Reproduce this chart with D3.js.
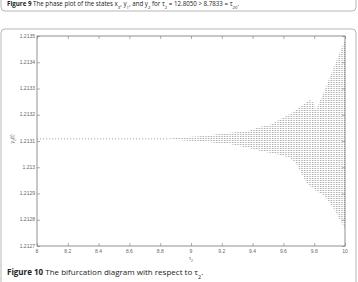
<!DOCTYPE html>
<html><head>
<meta charset="utf-8">
<script src="https://d3js.org/d3.v7.min.js"></script>
<style>
  body { margin: 0; background: #fff; }
  text.cap { font-family: "Open Sans", sans-serif; font-size: 8px; fill: #222; }
  text.cap9 { font-family: "Open Sans", sans-serif; font-size: 6.2px; fill: #222; }
  text.tick { font-family: "Liberation Sans", Arial, sans-serif; font-size: 5px; fill: #666; }
</style>
</head>
<body>
<svg id="chart" width="358" height="282"></svg>
<script>
// tick labels
const xTicks = [8, 8.2, 8.4, 8.6, 8.8, 9, 9.2, 9.4, 9.6, 9.8, 10];
const yTicks = [1.2127, 1.2128, 1.2129, 1.213, 1.2131, 1.2132, 1.2133, 1.2134, 1.2135];

// steady state before the Hopf point
const eqValue = 1.213108;
const eqTau = [8, 8.86];

// envelope of the oscillation
const envTau   = [8.86, 9.0, 9.08, 9.25, 9.37, 9.45, 9.51, 9.58, 9.64, 9.68, 9.75, 9.77, 9.80, 9.81, 9.86, 9.92, 9.95, 9.99, 10.0];
const envUpper = [1.213110, 1.213116, 1.213119, 1.213131, 1.213138, 1.213154, 1.213161, 1.213184, 1.213203, 1.213218,
                  1.213249, 1.213257, 1.213245, 1.213218, 1.213283, 1.213371, 1.213413, 1.213474, 1.213481];
const envLower = [1.213106, 1.213100, 1.213097, 1.213089, 1.213074, 1.213062, 1.213055, 1.213047, 1.213036, 1.213017,
                  1.212940, 1.212929, 1.212918, 1.212910, 1.212895, 1.212849, 1.212818, 1.212773, 1.212765];

const svg = d3.select("#chart");

// page frames (rounded boxes of the journal layout)
svg.append("rect").attr("x", 1).attr("y", -40).attr("width", 355).attr("height", 51)
   .attr("rx", 4).attr("fill", "none").attr("stroke", "#999").attr("stroke-width", 0.7);
svg.append("rect").attr("x", 1).attr("y", 29).attr("width", 355).attr("height", 300)
   .attr("rx", 4).attr("fill", "none").attr("stroke", "#999").attr("stroke-width", 0.7);

// caption of previous figure (cut by the top edge, as in the page)
const cap9 = svg.append("text").attr("class", "cap9").attr("x", 7).attr("y", 5.5);
cap9.append("tspan").attr("font-weight", "bold").text("Figure 9");
cap9.append("tspan").text("  The phase plot of the states x");
cap9.append("tspan").attr("baseline-shift", "sub").attr("font-size", "4.2px").text("3");
cap9.append("tspan").text(", y");
cap9.append("tspan").attr("baseline-shift", "sub").attr("font-size", "4.2px").text("1");
cap9.append("tspan").text(", and y");
cap9.append("tspan").attr("baseline-shift", "sub").attr("font-size", "4.2px").text("2");
cap9.append("tspan").text(" for τ");
cap9.append("tspan").attr("baseline-shift", "sub").attr("font-size", "4.2px").text("2");
cap9.append("tspan").text(" = 12.8050 > 8.7833 = τ");
cap9.append("tspan").attr("baseline-shift", "sub").attr("font-size", "4.2px").text("20");
cap9.append("tspan").text(".");

// plot area
const x = d3.scaleLinear().domain([8, 10]).range([37, 345]);
const y = d3.scaleLinear().domain([1.2127, 1.2135]).range([246, 36]);

// texture of dotted columns for the oscillating branch
const defs = svg.append("defs");
const pat = defs.append("pattern").attr("id", "cols")
   .attr("patternUnits", "userSpaceOnUse").attr("width", 1.6).attr("height", 2);
pat.append("rect").attr("x", 0).attr("y", 0).attr("width", 0.6).attr("height", 0.8).attr("fill", "#6a6a6a");

const env = envTau.map((t, i) => ({ t: t, hi: envUpper[i], lo: envLower[i] }));
const area = d3.area().x(d => x(d.t)).y0(d => y(d.lo)).y1(d => y(d.hi));
svg.append("path").datum(env).attr("d", area).attr("fill", "url(#cols)");

// steady state, dotted
svg.append("line")
   .attr("x1", x(eqTau[0])).attr("x2", x(eqTau[1]))
   .attr("y1", y(eqValue)).attr("y2", y(eqValue))
   .attr("stroke", "#888").attr("stroke-width", 0.7).attr("stroke-dasharray", "1.2,1.8");

// frame
svg.append("rect").attr("x", x(8)).attr("y", y(1.2135))
   .attr("width", x(10) - x(8)).attr("height", y(1.2127) - y(1.2135))
   .attr("fill", "none").attr("stroke", "#777").attr("stroke-width", 0.8);

// axes, ticks pointing inward on all four sides
svg.append("g").attr("transform", `translate(0,${y(1.2127)})`)
   .call(d3.axisTop(x).tickValues(xTicks).tickSize(3).tickFormat(""))
   .call(g => g.select(".domain").remove());
svg.append("g").attr("transform", `translate(0,${y(1.2135)})`)
   .call(d3.axisBottom(x).tickValues(xTicks).tickSize(3).tickFormat(""))
   .call(g => g.select(".domain").remove());
svg.append("g").attr("transform", `translate(${x(8)},0)`)
   .call(d3.axisRight(y).tickValues(yTicks).tickSize(3).tickFormat(""))
   .call(g => g.select(".domain").remove());
svg.append("g").attr("transform", `translate(${x(10)},0)`)
   .call(d3.axisLeft(y).tickValues(yTicks).tickSize(3).tickFormat(""))
   .call(g => g.select(".domain").remove());
svg.selectAll(".tick line").attr("stroke", "#777").attr("stroke-width", 0.6);

// tick labels
svg.selectAll("text.xl").data(xTicks).join("text")
   .attr("class", "tick xl").attr("x", d => x(d)).attr("y", 253)
   .attr("text-anchor", "middle").text(d => d3.format("")(d));
svg.selectAll("text.yl").data(yTicks).join("text")
   .attr("class", "tick yl").attr("x", x(8) - 2).attr("y", d => y(d) + 1.7)
   .attr("text-anchor", "end").text(d => d3.format("")(d));

// axis titles
const xt = svg.append("text").attr("class", "tick").attr("x", x(9)).attr("y", 260)
   .attr("text-anchor", "middle").text("τ");
xt.append("tspan").attr("baseline-shift", "sub").attr("font-size", "3.5px").text("2");
const yt = svg.append("text").attr("class", "tick")
   .attr("transform", `translate(14,${y(eqValue)}) rotate(-90)`)
   .attr("text-anchor", "middle").text("y");
yt.append("tspan").attr("baseline-shift", "sub").attr("font-size", "3.5px").text("2");
yt.append("tspan").text("(t)");

// caption
const cap = svg.append("text").attr("class", "cap").attr("x", 7).attr("y", 275);
cap.append("tspan").attr("font-weight", "bold").text("Figure 10");
cap.append("tspan").text("  The bifurcation diagram with respect to τ");
cap.append("tspan").attr("baseline-shift", "sub").attr("font-size", "5.5px").text("2");
cap.append("tspan").text(".");
</script>
</body>
</html>
